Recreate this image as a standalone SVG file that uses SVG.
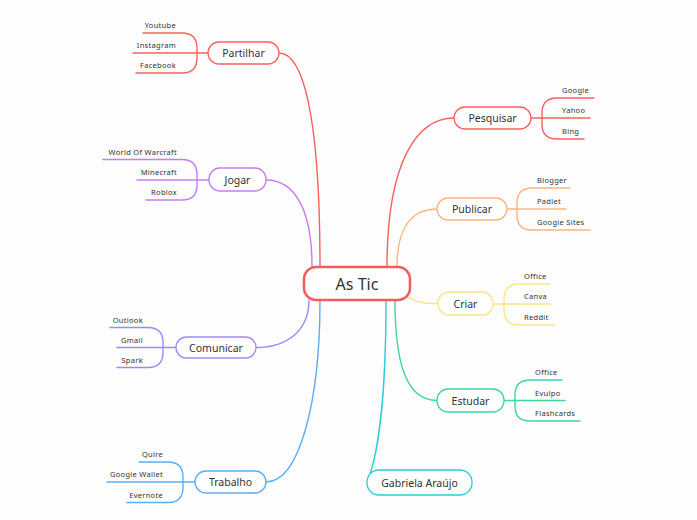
<svg xmlns="http://www.w3.org/2000/svg" width="697" height="520" viewBox="0 0 697 520">
<style>
text{font-family:"Noto Sans","Open Sans","DejaVu Sans",sans-serif;fill:#333;}
.n{font-size:10.5px;text-anchor:middle;dominant-baseline:central;}
.c{font-size:16px;text-anchor:middle;dominant-baseline:central;}
.l{font-size:7.5px;letter-spacing:0.3px;}
.r{text-anchor:end;}
.box{fill:#fff;stroke-width:1.3;}
.ln{fill:none;stroke-width:1.4;stroke-linecap:round;}
.red{stroke:#f7625e;}
.pur{stroke:#c57df0;}
.vio{stroke:#9d8af7;}
.blu{stroke:#5badf7;}
.org{stroke:#ffb380;}
.yel{stroke:#fbe58a;}
.grn{stroke:#3fd6a0;}
.cya{stroke:#2bcdd6;}
</style>
<rect width="697" height="520" fill="#fdfdfd"/>
<g id="connectors">
<path class="ln red" d="M279,53 C302,53 320,110 320,267"/>
<path class="ln pur" d="M266,180 C295,180 312,210 312,267"/>
<path class="ln vio" d="M256,347.5 C288,347.5 309,330 309,300"/>
<path class="ln blu" d="M266,482 C300,482 320,400 320,300"/>
<path class="ln red" d="M454,118 C418,118 387,160 387,267"/>
<path class="ln org" d="M437,209 C410,209 397,230 397,267"/>
<path class="ln yel" d="M405,295 C415,303 425,303.5 438,303.5"/>
<path class="ln grn" d="M437,400.5 C405,400.5 395,360 395,300"/>
<path class="ln cya" d="M386,300 C386,420 374,462 370,474 Q366,483 368,484"/>
</g>
<g id="partilhar">
<path class="ln red" d="M143,33 H182 Q197,33 197,48 V58 Q197,73 182,73 H136 M133,53 H208"/>
<rect class="box red" x="208" y="42" width="71" height="22" rx="11"/>
<text class="n" x="243.5" y="53">Partilhar</text>
<text class="l r" x="176" y="28">Youtube</text>
<text class="l r" x="176" y="48">Instagram</text>
<text class="l r" x="176" y="68">Facebook</text>
</g>
<g id="jogar">
<path class="ln pur" d="M103,159.5 H182 Q197,159.5 197,174.5 V185 Q197,200 182,200 H146 M137,180 H209"/>
<rect class="box pur" x="209" y="168" width="57" height="23" rx="11"/>
<text class="n" x="237.5" y="179.5">Jogar</text>
<text class="l r" x="177" y="154.5">World Of Warcraft</text>
<text class="l r" x="177" y="175">Minecraft</text>
<text class="l r" x="177" y="195">Roblox</text>
</g>
<g id="comunicar">
<path class="ln vio" d="M110,327.5 H148 Q163,327.5 163,342.5 V352.5 Q163,367.5 148,367.5 H117 M117,347.5 H176"/>
<rect class="box vio" x="176" y="337" width="80" height="21" rx="10.5"/>
<text class="n" x="216" y="347.5">Comunicar</text>
<text class="l r" x="143" y="322.5">Outlook</text>
<text class="l r" x="143" y="342.5">Gmail</text>
<text class="l r" x="143" y="362.5">Spark</text>
</g>
<g id="trabalho">
<path class="ln blu" d="M139,462 H168 Q183,462 183,477 V487.5 Q183,502.5 168,502.5 H127 M107,482 H195"/>
<rect class="box blu" x="195" y="471" width="71" height="22" rx="11"/>
<text class="n" x="230.5" y="482">Trabalho</text>
<text class="l r" x="163" y="457">Quire</text>
<text class="l r" x="163" y="477">Google Wallet</text>
<text class="l r" x="163" y="497.5">Evernote</text>
</g>
<g id="pesquisar">
<path class="ln red" d="M594,98 H557 Q542,98 542,113 V124 Q542,139 557,139 H584 M531,118 H590"/>
<rect class="box red" x="454" y="107" width="77" height="22" rx="11"/>
<text class="n" x="492.5" y="118">Pesquisar</text>
<text class="l" x="562" y="93">Google</text>
<text class="l" x="562" y="113">Yahoo</text>
<text class="l" x="562" y="134">Bing</text>
</g>
<g id="publicar">
<path class="ln org" d="M570,188 H532 Q517,188 517,203 V215 Q517,230 532,230 H590 M507,209 H566"/>
<rect class="box org" x="437" y="198" width="70" height="22" rx="11"/>
<text class="n" x="472" y="209">Publicar</text>
<text class="l" x="537" y="183">Blogger</text>
<text class="l" x="537" y="204">Padlet</text>
<text class="l" x="537" y="225">Google Sites</text>
</g>
<g id="criar">
<path class="ln yel" d="M550,284 H519 Q504,284 504,299 V310 Q504,325 519,325 H555 M493,304 H550"/>
<rect class="box yel" x="438" y="292" width="55" height="23" rx="11"/>
<text class="n" x="465.5" y="303.5">Criar</text>
<text class="l" x="524" y="279">Office</text>
<text class="l" x="524" y="299">Canva</text>
<text class="l" x="524" y="320">Reddit</text>
</g>
<g id="estudar">
<path class="ln grn" d="M562,380 H530 Q515,380 515,395 V406 Q515,421 530,421 H580 M504,400.5 H565"/>
<rect class="box grn" x="437" y="389" width="67" height="23" rx="11"/>
<text class="n" x="470.5" y="400.5">Estudar</text>
<text class="l" x="535" y="375">Office</text>
<text class="l" x="535" y="395.5">Evulpo</text>
<text class="l" x="535" y="416">Flashcards</text>
</g>
<g id="gabriela">
<rect class="box cya" x="367" y="470" width="105" height="25" rx="12"/>
<text class="n" x="419.5" y="482.5">Gabriela Araújo</text>
</g>
<g id="as-tic">
<rect x="304" y="267" width="106" height="33" rx="12" fill="#fff" stroke="#f25c5a" stroke-width="2.5"/>
<text class="c" x="357" y="284">As Tic</text>
</g>
</svg>
